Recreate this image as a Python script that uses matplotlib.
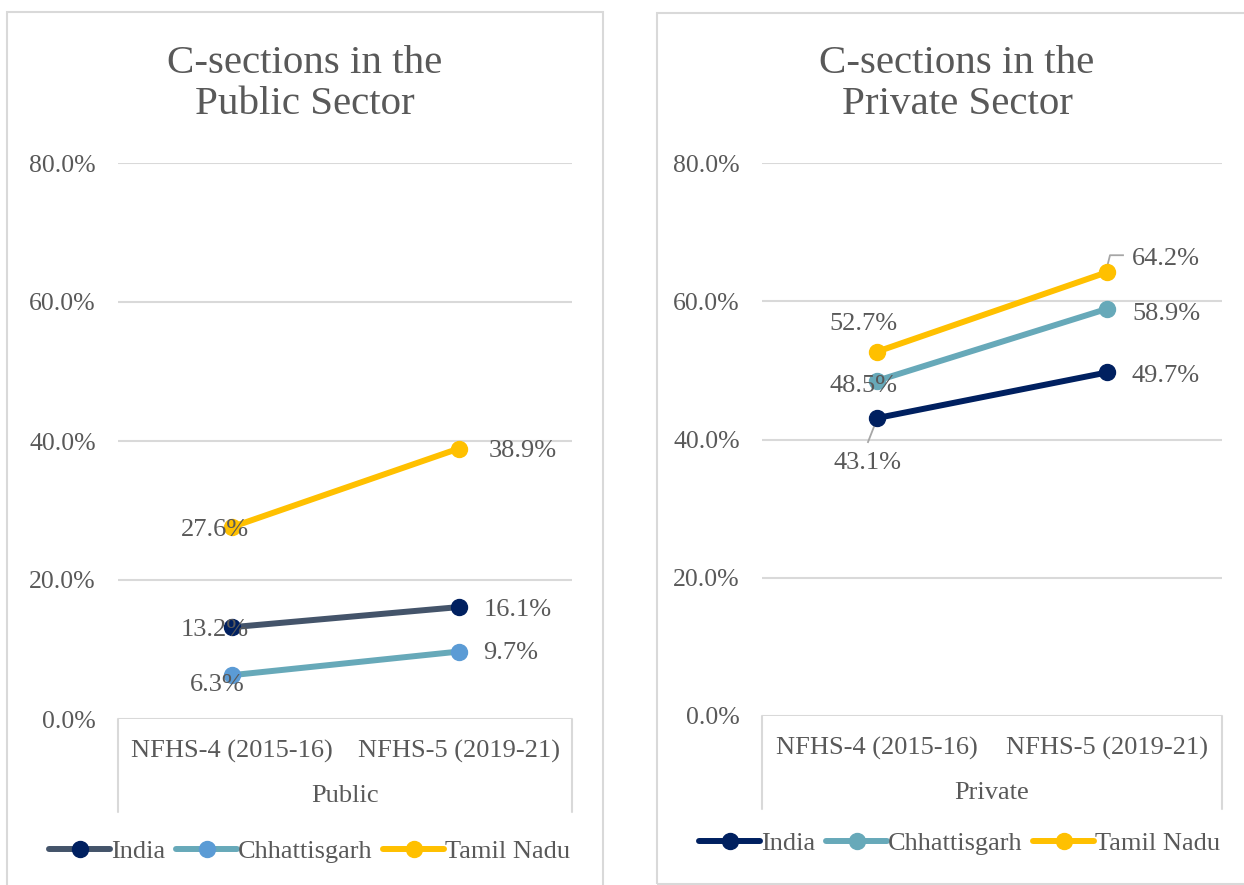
import matplotlib
matplotlib.use("Agg")
import matplotlib.pyplot as plt
from matplotlib.patches import Rectangle
from matplotlib.ticker import FuncFormatter

plt.rcParams['font.family'] = ['Liberation Serif', 'DejaVu Serif']

rounds = ['NFHS-4 (2015-16)', 'NFHS-5 (2019-21)']
states = ['India', 'Chhattisgarh', 'Tamil Nadu']

public_india = [13.2, 16.1]
public_chh = [6.3, 9.7]
public_tn = [27.6, 38.9]

private_india = [43.1, 49.7]
private_chh = [48.5, 58.9]
private_tn = [52.7, 64.2]

TEXT = '#595959'
GRID = '#D9D9D9'
W, H = 1244, 885

fig = plt.figure(figsize=(W / 100, H / 100), dpi=100)


def fx(px):
    return px / W


def fy(py):
    return 1 - py / H


# panel frames
fig.patches.append(Rectangle((fx(7), fy(900)), fx(596), fy(12) - fy(900),
                             transform=fig.transFigure, fill=False,
                             edgecolor=GRID, lw=1.5))
fig.patches.append(Rectangle((fx(657), fy(884)), fx(600), fy(13) - fy(884),
                             transform=fig.transFigure, fill=False,
                             edgecolor=GRID, lw=1.5))


def panel(rect, title, title_x, group, series, offsets, legend_xy):
    ax = fig.add_axes(rect)
    ax.set_xlim(-0.5, 1.5)
    ax.set_ylim(0, 80)
    x = [0, 1]
    for (vals, line_c, mark_c), name in zip(series, states):
        ax.plot(x, vals, color=line_c, lw=4.3, marker='o', markersize=11.5,
                markerfacecolor=mark_c, markeredgecolor=mark_c,
                solid_capstyle='round', label=name, zorder=3)
    for (vals, _, _), offs in zip(series, offsets):
        for i, v in enumerate(vals):
            dx, dy, ha, leader = offs[i]
            ax.annotate(f'{v:.1f}%', xy=(x[i], v), xytext=(dx, dy),
                        textcoords='offset pixels', ha=ha, va='center',
                        fontsize=19, color=TEXT, zorder=4)
            if leader:
                # leader line, given as pixel offsets from the point
                base = ax.transData.transform((x[i], v))
                pts = [ax.transData.inverted().transform(base + o)
                       for o in leader]
                ax.plot([p[0] for p in pts], [p[1] for p in pts],
                        color='#A6A6A6', lw=1.3, zorder=2)

    ax.set_yticks([0, 20, 40, 60, 80])
    ax.yaxis.set_major_formatter(FuncFormatter(lambda v, p: f'{v:.1f}%'))
    ax.set_xticks(x)
    ax.set_xticklabels(rounds)
    ax.tick_params(axis='x', length=0, pad=15, labelsize=19, colors=TEXT)
    ax.tick_params(axis='y', length=0, pad=16, labelsize=18.5, colors=TEXT)
    ax.grid(axis='y', color=GRID, lw=1.5)
    ax.set_axisbelow(True)
    for s in ax.spines.values():
        s.set_visible(False)

    # category box below the plot
    for side in (0, 1):
        ax.annotate('', xy=(side, 0), xycoords='axes fraction',
                    xytext=(0, -93), textcoords='offset pixels',
                    arrowprops=dict(arrowstyle='-', color=GRID, lw=1.5,
                                    shrinkA=0, shrinkB=0))
    ax.annotate(group, xy=(0.5, 0), xycoords='axes fraction',
                xytext=(0, -77), textcoords='offset pixels',
                ha='center', va='center', fontsize=19, color=TEXT)

    fig.text(fx(title_x), fy(84), title, ha='center', va='center',
             fontsize=29.5, color=TEXT, linespacing=1.15)

    fig.legend(*ax.get_legend_handles_labels(), loc='center',
               bbox_to_anchor=(fx(legend_xy[0]), fy(legend_xy[1])),
               ncol=3, frameon=False, fontsize=19, labelcolor=TEXT,
               handlelength=2.3, handletextpad=0.05, columnspacing=0.4,
               borderaxespad=0)
    return ax


panel([fx(118), fy(719), fx(454), fy(163) - fy(719)],
      'C-sections in the\nPublic Sector', 305, 'Public',
      [(public_india, '#44546A', '#002060'),
       (public_chh, '#67A9B9', '#5B9BD5'),
       (public_tn, '#FFC000', '#FFC000')],
      [[(-17, -3, 'center', None), (25, -3, 'left', None)],
       [(-14, -10, 'center', None), (25, -1, 'left', None)],
       [(-17, -3, 'center', None), (30, -2, 'left', None)]],
      (310, 851))

panel([fx(762), fy(716), fx(460), fy(163) - fy(716)],
      'C-sections in the\nPrivate Sector', 957, 'Private',
      [(private_india, '#002060', '#002060'),
       (private_chh, '#67A9B9', '#67A9B9'),
       (private_tn, '#FFC000', '#FFC000')],
      [[(-10, -45, 'center', [(-2, -6), (-9, -24)]),
        (25, -4, 'left', None)],
       [(-14, -5, 'center', None), (25, -5, 'left', None)],
       [(-14, 28, 'center', None),
        (25, 13, 'left', [(0, 5), (3, 17), (16, 17)])]],
      (960, 843))

fig.savefig('out.png', dpi=100, facecolor='white')
